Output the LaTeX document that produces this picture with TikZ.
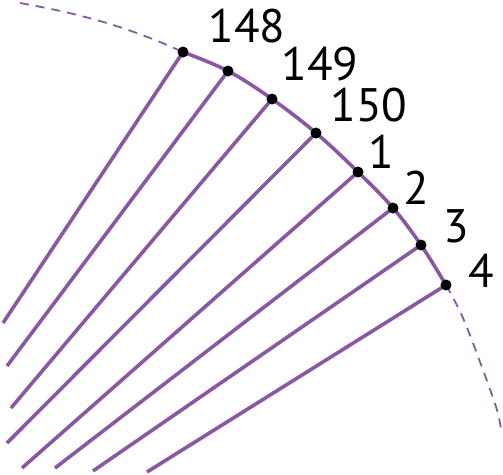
\documentclass[tikz,border=0pt]{standalone}
\usepackage{fontspec}
\setmainfont{PT Sans}
\definecolor{arcpurple}{RGB}{138,88,163}
\begin{document}
\begin{tikzpicture}[x=1pt,y=-1pt,
  chord/.style={draw=arcpurple,line width=3.6pt},
  rim/.style={draw=arcpurple,line width=3.6pt},
  guide/.style={draw=arcpurple,line width=1.8pt,dash pattern=on 9pt off 7pt},
  dotmark/.style={circle,fill=black,inner sep=0pt,minimum size=11pt},
  num/.style={inner sep=0pt,font=\fontsize{47}{47}\selectfont}]
\useasboundingbox (0,0) rectangle (503,474);
% points on the rim
\coordinate (p148) at (183,52);
\coordinate (p149) at (228,71);
\coordinate (p150) at (272,99);
\coordinate (p1) at (316,133);
\coordinate (p2) at (358,172);
\coordinate (p3) at (393,208);
\coordinate (p4) at (421,245);
\coordinate (p5) at (446,285);
% free ends of chords
\coordinate (e148) at (3,323);
\coordinate (e149) at (7,366);
\coordinate (e150) at (11,408);
\coordinate (e1) at (7,443);
\coordinate (e2) at (22,468);
\coordinate (e3) at (55,468);
\coordinate (e4) at (93,471);
\coordinate (e5) at (147,472);
% dashed guide arcs
\draw[guide] plot[smooth,tension=0.6] coordinates {(20,3) (65,12) (110,24) (150,38) (183,52)};
\draw[guide] plot[smooth,tension=0.6] coordinates {(446,285) (463,318) (483,370) (497,410) (501,430)};
% chords
\foreach \n in {148,149,150,1,2,3,4,5}
  \draw[chord] (p\n) -- (e\n);
% solid rim
\draw[rim] plot[smooth,tension=0.6] coordinates {(p148) (p149) (p150) (p1) (p2) (p3) (p4) (p5)};
% dots
\foreach \n in {148,149,150,1,2,3,4,5}
  \node[dotmark] (d\n) at (p\n) {};
% labels
\node[num] (l148) at (247,26) {148};
\node[num] (l149) at (320,64.5) {149};
\node[num] (l150) at (369,105.5) {150};
\node[num] (l1) at (381.5,151.5) {1};
\node[num] (l2) at (416,187.5) {2};
\node[num] (l3) at (456.5,226) {3};
\node[num] (l4) at (481.5,271) {4};
\end{tikzpicture}
\end{document}
